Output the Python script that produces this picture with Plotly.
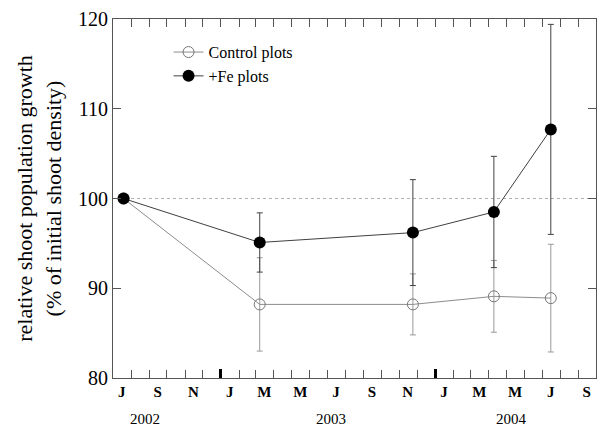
import plotly.graph_objects as go

# ---- data ----
dates = ["2002-07-19", "2003-03-08", "2003-11-24", "2004-04-10", "2004-07-16"]
control_vals = [100.0, 88.2, 88.2, 89.1, 88.9]
control_err = [0.0, 5.2, 3.4, 4.0, 6.0]
fe_vals = [100.0, 95.1, 96.2, 98.5, 107.7]
fe_err = [0.0, 3.3, 5.9, 6.2, 11.7]
reference_level = 100

month_tick_dates = [f"{y}-{m:02d}-01" for y, m in
                    [(2002, m) for m in range(7, 13)] + [(2003, m) for m in range(1, 13)] + [(2004, m) for m in range(1, 11)]]
month_label_dates = ["2002-07-16", "2002-09-15", "2002-11-15", "2003-01-16", "2003-03-16", "2003-05-16",
                     "2003-07-16", "2003-09-15", "2003-11-15", "2004-01-16", "2004-03-16", "2004-05-16",
                     "2004-07-16", "2004-09-15"]
month_labels = ["J", "S", "N", "J", "M", "M", "J", "S", "N", "J", "M", "M", "J", "S"]
year_tick_dates = ["2003-01-01", "2004-01-01"]
year_label_dates = ["2002-08-24", "2003-07-07", "2004-05-10"]
year_labels = ["2002", "2003", "2004"]
y_ticks = [80, 90, 100, 110, 120]
x_range = ["2002-07-01", "2004-10-01"]

SERIF = "Liberation Serif, Times New Roman, serif"
FRAME = "#555555"

fig = go.Figure()
fig.add_trace(go.Scatter(
    x=dates, y=control_vals, name="Control plots", mode="lines+markers",
    line=dict(color="#8c8c8c", width=1),
    marker=dict(symbol="circle-open", size=11, color="#777777", line=dict(width=1)),
    error_y=dict(type="data", array=control_err, visible=True, color="#999999", thickness=1, width=3),
))
fig.add_trace(go.Scatter(
    x=dates, y=fe_vals, name="+Fe plots", mode="lines+markers",
    line=dict(color="#404040", width=1),
    marker=dict(symbol="circle", size=12, color="black"),
    error_y=dict(type="data", array=fe_err, visible=True, color="#404040", thickness=1, width=3),
))

# axes helpers for ticks
fig.add_trace(go.Scatter(x=x_range, y=[None, None], xaxis="x2", showlegend=False, hoverinfo="skip"))
fig.add_trace(go.Scatter(x=x_range, y=[None, None], xaxis="x3", showlegend=False, hoverinfo="skip"))

fig.add_shape(type="line", xref="paper", x0=0, x1=1, yref="y", y0=reference_level, y1=reference_level,
              line=dict(color="#b0b0b0", width=1, dash="dot"), layer="below")

for d, t in zip(year_label_dates, year_labels):
    fig.add_annotation(x=d, xref="x", y=0, yref="paper", yshift=-41, text=t, showarrow=False,
                       font=dict(family=SERIF, size=15, color="black"), yanchor="middle")

fig.update_layout(
    width=600, height=426,
    margin=dict(l=113, r=4, t=19, b=48),
    paper_bgcolor="white", plot_bgcolor="white",
    font=dict(family=SERIF, color="black"),
    showlegend=True,
    legend=dict(x=0.115, y=0.955, xanchor="left", yanchor="top", bgcolor="rgba(0,0,0,0)",
                font=dict(family=SERIF, size=16, color="black"), tracegroupgap=0),
    xaxis=dict(type="date", range=x_range, tickmode="array", tickvals=month_label_dates,
               ticktext=[f"<b>{m}</b>" for m in month_labels], ticks="", showgrid=False, zeroline=False,
               showline=True, linecolor=FRAME, linewidth=1, mirror=True,
               tickfont=dict(family=SERIF, size=15, color="black")),
    xaxis2=dict(type="date", overlaying="x", matches="x", range=x_range, tickmode="array",
                tickvals=month_tick_dates, showticklabels=False, ticks="inside", ticklen=8,
                tickcolor=FRAME, tickwidth=1, showgrid=False, zeroline=False, showline=True,
                linecolor=FRAME, mirror="ticks", side="bottom", anchor="y"),
    xaxis3=dict(type="date", overlaying="x", matches="x", range=x_range, tickmode="array",
                tickvals=year_tick_dates, showticklabels=False, ticks="inside", ticklen=9,
                tickcolor="black", tickwidth=3, showgrid=False, zeroline=False, showline=False,
                side="bottom", anchor="y"),
    yaxis=dict(range=[80, 120], tickmode="array", tickvals=y_ticks, ticks="inside", ticklen=8,
               tickcolor=FRAME, showgrid=False, zeroline=False, showline=True, linecolor=FRAME,
               linewidth=1, mirror="ticks", tickfont=dict(family=SERIF, size=20, color="black"),
               title=dict(text="relative shoot population growth<br>(% of initial shoot density)",
                          font=dict(family=SERIF, size=22, color="black"), standoff=10)),
)

fig.write_html("out.html")
